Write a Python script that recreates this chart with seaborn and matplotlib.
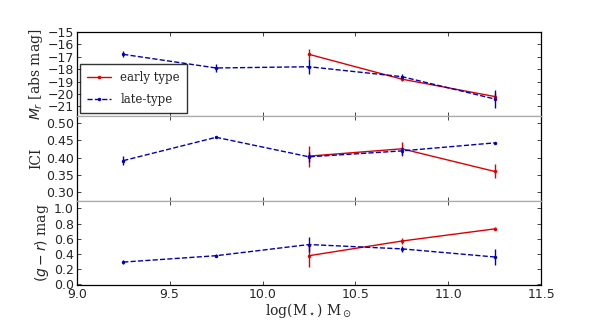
import numpy as np
import pandas as pd
import seaborn as sns
import matplotlib
matplotlib.use("Agg")
import matplotlib.pyplot as plt

# stellar mass bins
logm_late = [9.25, 9.75, 10.25, 10.75, 11.25]
logm_early = [10.25, 10.75, 11.25]

# absolute magnitude
mr_late = [-16.8, -17.9, -17.8, -18.6, -20.4]
mr_late_err = [0.25, 0.3, 0.6, 0.2, 0.7]
mr_early = [-16.8, -18.8, -20.2]
mr_early_err = [0.4, 0.15, 0.3]

# ICI
ici_late = [0.391, 0.458, 0.402, 0.419, 0.442]
ici_late_err = [0.013, 0.003, 0.015, 0.012, 0.002]
ici_early = [0.404, 0.425, 0.36]
ici_early_err = [0.03, 0.02, 0.02]

# colour
gr_late = [0.293, 0.377, 0.524, 0.467, 0.36]
gr_late_err = [0.03, 0.02, 0.1, 0.04, 0.1]
gr_early = [0.377, 0.57, 0.73]
gr_early_err = [0.15, 0.04, 0.02]

sns.set_style("ticks")
plt.rcParams["xtick.direction"] = "in"
plt.rcParams["ytick.direction"] = "in"

fig, axes = plt.subplots(3, 1, figsize=(6, 3.2), dpi=100, sharex=True)
fig.subplots_adjust(left=0.128, right=0.902, top=0.9, bottom=0.109, hspace=0)

panels = [
    (mr_late, mr_late_err, mr_early, mr_early_err, r"$M_r$ [abs mag]"),
    (ici_late, ici_late_err, ici_early, ici_early_err, "ICI"),
    (gr_late, gr_late_err, gr_early, gr_early_err, r"$(g-r)$ mag"),
]

serif = {"family": "DejaVu Serif"}

for i, (ax, (yl, el, ye, ee, lab)) in enumerate(zip(axes, panels)):
    late = pd.DataFrame({"x": logm_late, "y": yl})
    early = pd.DataFrame({"x": logm_early, "y": ye})
    sns.lineplot(data=early, x="x", y="y", ax=ax, color="#dd0000", lw=1,
                 marker="o", markersize=2.5, markeredgewidth=0, label="early type")
    sns.lineplot(data=late, x="x", y="y", ax=ax, color="#0000bb", lw=1,
                 linestyle="--", marker="o", markersize=2.5, markeredgewidth=0,
                 label="late-type")
    ax.errorbar(logm_early, ye, yerr=ee, fmt="none", ecolor="#dd0000", elinewidth=1)
    ax.errorbar(logm_late, yl, yerr=el, fmt="none", ecolor="#0000bb", elinewidth=1)
    ax.set_ylabel(lab, fontdict=serif, fontsize=10, labelpad=2)
    ax.set_xlabel("")
    ax.tick_params(labelsize=9, length=3, top=True, right=True, width=0.6, pad=2)
    for s in ax.spines.values():
        s.set_color("black")
        s.set_linewidth(0.9)
    if i > 0:
        ax.spines["top"].set_color("#aaaaaa")
    if i < 2:
        ax.spines["bottom"].set_color("#aaaaaa")
    if i != 0:
        ax.get_legend().remove()

axes[0].set_ylim(-21.8, -15)
axes[0].set_yticks([-15, -16, -17, -18, -19, -20, -21])
axes[0].set_yticklabels(["\u221215", "\u221216", "\u221217", "\u221218", "\u221219", "\u221220", "\u221221"])
axes[1].set_ylim(0.276, 0.518)
axes[1].set_yticks([0.30, 0.35, 0.40, 0.45, 0.50])
axes[1].set_yticklabels(["0.30", "0.35", "0.40", "0.45", "0.50"])
axes[2].set_ylim(-0.01, 1.1)
axes[2].set_yticks([0.0, 0.2, 0.4, 0.6, 0.8, 1.0])
axes[2].set_xlim(9.0, 11.5)
axes[2].set_xticks([9.0, 9.5, 10.0, 10.5, 11.0, 11.5])
axes[2].set_xlabel(r"log(M$_\star$) M$_\odot$", fontdict=serif, fontsize=10, labelpad=0)

leg = axes[0].legend(loc="lower left", frameon=True, fancybox=False,
                     prop={"family": "DejaVu Serif", "size": 8.5}, handlelength=2.0,
                     handletextpad=0.8, borderaxespad=0.3, borderpad=0.6,
                     labelspacing=0.7)
leg.get_frame().set_edgecolor("black")

fig.savefig("out.png", dpi=100)
